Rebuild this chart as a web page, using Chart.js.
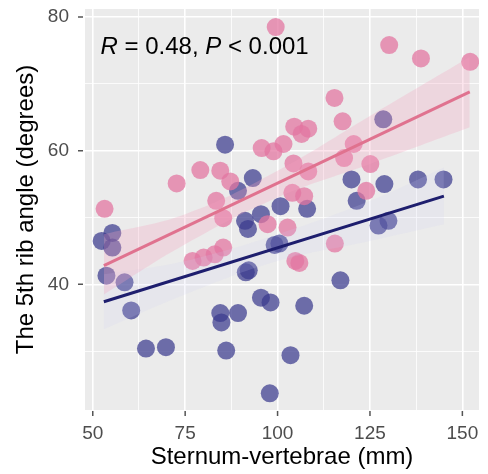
<!DOCTYPE html>
<html>
<head>
<meta charset="utf-8">
<script src="https://cdn.jsdelivr.net/npm/chart.js@4/dist/chart.umd.min.js"></script>
<style>
  html, body { margin: 0; padding: 0; background: #fff; }
  #wrap { width: 488px; height: 474px; }
</style>
</head>
<body>
<div id="wrap"><canvas id="chart" width="488" height="474"></canvas></div>
<script>
// sternum-vertebrae distance (mm) vs 5th rib angle (degrees)
const pinkX = [53.2, 72.7, 79.1, 84.5, 99.5, 115.4, 130.2, 138.8, 152.1, 104.5, 108.3, 106.5, 117.6,
  95.7, 98.9, 101.6, 104.3, 120.6, 125.1, 118.0, 108.3, 87.2, 83.4, 85.3, 97.3, 102.7, 104.0,
  107.2, 115.5, 85.3, 104.8, 77.0, 80.0, 83.0, 105.9, 124.0];
const pinkY = [51.3, 55.1, 57.1, 57.0, 78.5, 67.9, 75.8, 73.8, 73.3, 63.6, 63.3, 62.5, 64.4,
  60.4, 59.9, 61.0, 58.1, 61.0, 58.0, 58.9, 56.9, 55.4, 52.5, 49.9, 49.0, 48.5, 53.7,
  53.2, 46.1, 45.5, 43.5, 43.5, 44.0, 44.5, 43.2, 54.0];

const blueX = [85.8, 52.4, 55.3, 55.3, 53.7, 58.6, 60.4, 64.4, 69.8, 84.5, 89.3, 84.8, 86.1,
  91.4, 95.5, 98.1, 107.2, 103.5, 97.9, 117.0, 93.3, 89.3, 100.8, 91.2, 92.0, 108.0, 100.5,
  120.0, 128.9, 138.0, 144.9, 121.4, 127.3, 130.0, 128.6, 92.2, 99.2, 95.5];
const blueY = [60.9, 46.5, 47.7, 45.5, 41.3, 40.3, 36.1, 30.4, 30.6, 35.7, 35.7, 34.3, 30.1,
  41.8, 38.0, 37.3, 36.8, 29.4, 23.7, 40.6, 55.9, 54.0, 51.7, 49.5, 48.3, 51.3, 46.1,
  55.7, 55.0, 55.7, 55.7, 52.5, 48.8, 49.5, 64.7, 42.1, 45.9, 50.5];

// fitted lines (end points) and confidence bands
const pinkFitX = [53, 152];
const pinkFitY = [42.8, 68.8];
const pinkBandX = [53, 75, 100, 125, 152];
const pinkBandHi = [47.5, 50.5, 57.0, 65.2, 74.0];
const pinkBandLo = [38.5, 46.0, 53.0, 58.0, 63.5];

const blueFitX = [53, 145];
const blueFitY = [37.4, 53.2];
const blueBandX = [53, 75, 100, 125, 145];
const blueBandHi = [41.5, 43.5, 47.5, 52.5, 57.5];
const blueBandLo = [33.3, 38.5, 43.5, 46.5, 49.0];

const xTicks = [50, 62.5, 75, 87.5, 100, 112.5, 125, 137.5, 150];
const xLabels = [50, 75, 100, 125, 150];
const yTicks = [30, 40, 50, 60, 70, 80];
const yLabels = [40, 60, 80];

const statText = [["R", true], [" = 0.48, ", false], ["P", true], [" < 0.001", false]];

function pts(xs, ys) {
  return xs.map((x, i) => ({ x: x, y: ys[i] }));
}

const panelBg = {
  id: 'panelBg',
  beforeDraw(chart) {
    const a = chart.chartArea;
    const ctx = chart.ctx;
    ctx.save();
    ctx.fillStyle = '#ebebeb';
    ctx.fillRect(a.left, a.top, a.right - a.left, a.bottom - a.top);
    ctx.restore();
  }
};

// small grey tick marks outside the panel, majors only (ggplot style)
const tickMarks = {
  id: 'tickMarks',
  afterDraw(chart) {
    const a = chart.chartArea;
    const ctx = chart.ctx;
    ctx.save();
    ctx.strokeStyle = '#555555';
    ctx.lineWidth = 1.5;
    ctx.beginPath();
    xLabels.forEach(v => {
      const px = chart.scales.x.getPixelForValue(v);
      ctx.moveTo(px, a.bottom + 1);
      ctx.lineTo(px, a.bottom + 6);
    });
    yLabels.forEach(v => {
      const py = chart.scales.y.getPixelForValue(v);
      ctx.moveTo(a.left - 7, py);
      ctx.lineTo(a.left - 2, py);
    });
    ctx.stroke();
    ctx.restore();
  }
};

const statLabel = {
  id: 'statLabel',
  afterDatasetsDraw(chart) {
    const ctx = chart.ctx;
    let x = chart.scales.x.getPixelForValue(52.1);
    const y = chart.scales.y.getPixelForValue(75.4);
    ctx.save();
    ctx.fillStyle = '#000';
    ctx.textBaseline = 'middle';
    ctx.textAlign = 'left';
    statText.forEach(([t, it]) => {
      ctx.font = (it ? 'italic ' : '') + '24px "Liberation Sans", Arial, sans-serif';
      ctx.fillText(t, x, y);
      x += ctx.measureText(t).width;
    });
    ctx.restore();
  }
};

const isMajorX = v => xLabels.includes(v);
const isMajorY = v => yLabels.includes(v);

new Chart(document.getElementById('chart'), {
  type: 'scatter',
  data: {
    datasets: [
      {
        type: 'line', label: 'pink fit', data: pts(pinkFitX, pinkFitY),
        borderColor: '#e0728f', borderWidth: 3, pointRadius: 0, order: 1
      },
      {
        type: 'line', label: 'blue fit', data: pts(blueFitX, blueFitY),
        borderColor: '#1e1e6e', borderWidth: 3, pointRadius: 0, order: 1
      },
      {
        type: 'line', label: 'pink lo', data: pts(pinkBandX, pinkBandLo),
        borderWidth: 0, pointRadius: 0, fill: false, tension: 0.4, order: 2
      },
      {
        type: 'line', label: 'pink hi', data: pts(pinkBandX, pinkBandHi),
        borderWidth: 0, pointRadius: 0, tension: 0.4, order: 2,
        fill: { target: 2 }, backgroundColor: 'rgba(245,160,190,0.28)'
      },
      {
        type: 'line', label: 'blue lo', data: pts(blueBandX, blueBandLo),
        borderWidth: 0, pointRadius: 0, fill: false, tension: 0.4, order: 2
      },
      {
        type: 'line', label: 'blue hi', data: pts(blueBandX, blueBandHi),
        borderWidth: 0, pointRadius: 0, tension: 0.4, order: 2,
        fill: { target: 4 }, backgroundColor: 'rgba(205,205,245,0.16)'
      },
      {
        label: 'pink', data: pts(pinkX, pinkY),
        backgroundColor: 'rgba(226,118,160,0.74)', borderWidth: 0,
        pointRadius: 9, order: 3
      },
      {
        label: 'blue', data: pts(blueX, blueY),
        backgroundColor: 'rgba(58,58,142,0.72)', borderWidth: 0,
        pointRadius: 9, order: 3
      }
    ]
  },
  options: {
    responsive: false,
    animation: false,
    layout: { padding: { top: 7, right: 4, left: 0, bottom: 0 } },
    plugins: {
      legend: { display: false },
      tooltip: { enabled: false }
    },
    scales: {
      x: {
        type: 'linear', min: 47.9, max: 154.5,
        afterBuildTicks: s => { s.ticks = xTicks.map(v => ({ value: v })); },
        afterFit: s => { s.height = 64; s.paddingLeft = 0; s.paddingRight = 0; },
        border: { display: false },
        grid: {
          color: '#ffffff',
          lineWidth: c => (isMajorX(c.tick.value) ? 1.6 : 0.8),
          drawTicks: false
        },
        ticks: {
          color: '#4d4d4d', padding: 12,
          font: { size: 19, family: '"Liberation Sans", Arial, sans-serif' },
          callback: v => (isMajorX(v) ? String(v) : '')
        },
        title: {
          display: true, text: 'Sternum-vertebrae (mm)', color: '#000',
          font: { size: 24, family: '"Liberation Sans", Arial, sans-serif' },
          padding: { top: 0, bottom: 2 }
        }
      },
      y: {
        type: 'linear', min: 21.2, max: 81.2,
        afterBuildTicks: s => { s.ticks = yTicks.map(v => ({ value: v })); },
        afterFit: s => { s.width = 85; s.paddingTop = 0; s.paddingBottom = 0; },
        border: { display: false },
        grid: {
          color: '#ffffff',
          lineWidth: c => (isMajorY(c.tick.value) ? 1.6 : 0.8),
          drawTicks: false
        },
        ticks: {
          color: '#4d4d4d', padding: 16,
          font: { size: 19, family: '"Liberation Sans", Arial, sans-serif' },
          callback: v => (isMajorY(v) ? String(v) : '')
        },
        title: {
          display: true, text: 'The 5th rib angle (degrees)', color: '#000',
          font: { size: 24, family: '"Liberation Sans", Arial, sans-serif' },
          padding: { top: 12, bottom: 0 }
        }
      }
    }
  },
  plugins: [panelBg, tickMarks, statLabel]
});
</script>
</body>
</html>
